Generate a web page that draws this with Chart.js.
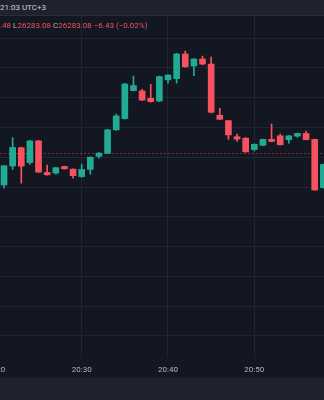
<!DOCTYPE html>
<html>
<head>
<meta charset="utf-8">
<script src="https://cdn.jsdelivr.net/npm/chart.js"></script>
<style>
  html, body { margin: 0; padding: 0; background: #131722; }
  body { width: 324px; height: 400px; overflow: hidden; position: relative; font-family: Roboto, "Liberation Sans", sans-serif; }
  .top-bar { position: absolute; left: 0; top: 0; width: 324px; height: 15px; background: #1e222d; border-bottom: 1px solid #2a2e39; }
  .top-bar span { position: absolute; left: 0; top: 3px; font-size: 8px; line-height: 10px; color: #d1d4dc; }
  .legend { position: absolute; left: 0; top: 21px; font-size: 8px; line-height: 10px; color: #f7525f; white-space: nowrap; }
  .legend .k { color: #b2b5be; }
  .bottom-bar { position: absolute; left: 0; top: 378px; width: 324px; height: 22px; background: #1e222d; }
  .chart-box { position: absolute; left: -40px; top: 16px; width: 404px; height: 362px; }
</style>
</head>
<body>
<div class="top-bar"><span>21:03 UTC+3</span></div>
<div class="chart-box"><canvas id="chart"></canvas></div>
<div class="legend">.48 <span class="k">L</span>26283.08 <span class="k">C</span>26283.08 &minus;6.43 (&minus;0.02%)</div>
<div class="bottom-bar"></div>
<script>
// 1 minute candles, minutes after 20:00
const minutes = [21, 22, 23, 24, 25, 26, 27, 28, 29, 30, 31, 32, 33, 34, 35, 36, 37, 38, 39,
  40, 41, 42, 43, 44, 45, 46, 47, 48, 49, 50, 51, 52, 53, 54, 55, 56, 57, 58];
const opens = [26270.67, 26277.06, 26283.2, 26278.2, 26285.5, 26274.9, 26274.7, 26276.9, 26276.0, 26273.5,
  26275.9, 26280.3, 26281.3, 26289.2, 26293.0, 26302.4, 26302.3, 26299.8, 26298.9, 26306.0,
  26306.4, 26314.7, 26310.7, 26313.0, 26311.3, 26294.1, 26292.3, 26286.9, 26286.4, 26282.6,
  26284.0, 26286.0, 26287.2, 26285.9, 26287.1, 26288.0, 26286.0, 26269.8];
const highs = [26277.2, 26286.6, 26283.4, 26285.7, 26285.6, 26277.4, 26276.6, 26277.0, 26276.1, 26277.7,
  26280.1, 26281.6, 26289.4, 26294.5, 26304.8, 26307.3, 26302.8, 26304.5, 26307.3, 26307.8,
  26314.9, 26315.7, 26313.2, 26314.0, 26313.7, 26296.45, 26292.4, 26287.8, 26286.6, 26284.5,
  26286.1, 26291.2, 26287.8, 26287.3, 26288.1, 26288.8, 26286.1, 26277.7];
const lows = [26269.7, 26275.95, 26271.3, 26277.6, 26274.9, 26274.0, 26274.3, 26276.0, 26273.0, 26273.3,
  26274.3, 26279.7, 26281.2, 26289.0, 26292.8, 26302.3, 26299.0, 26298.5, 26298.7, 26304.9,
  26304.9, 26310.2, 26307.4, 26311.1, 26294.9, 26292.6, 26286.0, 26285.3, 26281.7, 26282.1,
  26283.9, 26285.2, 26284.1, 26284.7, 26286.7, 26285.8, 26268.9, 26269.6];
const closes = [26277.16, 26283.3, 26277.0, 26285.5, 26275.0, 26274.1, 26276.5, 26276.1, 26273.8, 26275.9,
  26280.0, 26281.4, 26289.2, 26293.9, 26304.6, 26304.1, 26299.2, 26298.7, 26307.1, 26307.6,
  26314.7, 26310.4, 26313.0, 26311.3, 26295.1, 26292.75, 26287.5, 26286.1, 26281.8, 26284.35,
  26286.0, 26285.3, 26284.2, 26287.2, 26288.0, 26285.9, 26269.0, 26277.6];

const timeTicks = [20, 30, 40, 50, 60];
const timeLabels = ["20:20", "20:30", "20:40", "20:50", "21:00"];
const priceGrid = [26220, 26230, 26240, 26250, 26260, 26270, 26280, 26290, 26300, 26310, 26320];
const lastPrice = 26281.3;

const UP = "#22ab94";
const DOWN = "#f7525f";
const GRID = "rgba(42, 46, 57, 0.6)";

const colors = minutes.map((m, i) => (closes[i] >= opens[i] ? UP : DOWN));

const priceLine = {
  id: "priceLine",
  beforeDatasetsDraw(chart) {
    const { ctx, chartArea } = chart;
    const y = Math.round(chart.scales.y.getPixelForValue(lastPrice)) + 0.5;
    ctx.save();
    ctx.strokeStyle = "rgba(242, 54, 69, 0.55)";
    ctx.lineWidth = 1;
    ctx.setLineDash([2, 2]);
    ctx.beginPath();
    ctx.moveTo(chartArea.left, y);
    ctx.lineTo(chartArea.right, y);
    ctx.stroke();
    ctx.restore();
  },
};

new Chart(document.getElementById("chart"), {
  type: "bar",
  data: {
    datasets: [
      {
        label: "wick",
        data: minutes.map((m, i) => ({ x: m, y: [lows[i], highs[i]] })),
        backgroundColor: colors,
        barThickness: 1,
        grouped: false,
      },
      {
        label: "body",
        data: minutes.map((m, i) => ({ x: m, y: [opens[i], closes[i]] })),
        backgroundColor: colors,
        barThickness: 6,
        grouped: false,
      },
    ],
  },
  options: {
    responsive: true,
    maintainAspectRatio: false,
    animation: false,
    layout: { padding: 0 },
    plugins: {
      legend: { display: false },
      tooltip: { enabled: false },
    },
    scales: {
      x: {
        type: "linear",
        offset: false,
        min: 15.9,
        max: 62.71,
        afterFit(s) { s.height = 20; },
        afterBuildTicks(s) { s.ticks = timeTicks.map((v) => ({ value: v })); },
        grid: { color: GRID, drawTicks: false, offset: false },
        border: { display: false },
        ticks: {
          color: "#b2b5be",
          font: { size: 8, family: "Roboto, 'Liberation Sans', sans-serif" },
          padding: 7,
          maxRotation: 0,
          autoSkip: false,
          callback: (v) => timeLabels[timeTicks.indexOf(v)],
        },
      },
      y: {
        min: 26212.53,
        max: 26327.47,
        afterFit(s) { s.width = 0; },
        afterBuildTicks(s) { s.ticks = priceGrid.map((v) => ({ value: v })); },
        grid: { color: GRID, drawTicks: false },
        border: { display: false },
        ticks: { display: false },
      },
    },
  },
  plugins: [priceLine],
});
</script>
</body>
</html>
